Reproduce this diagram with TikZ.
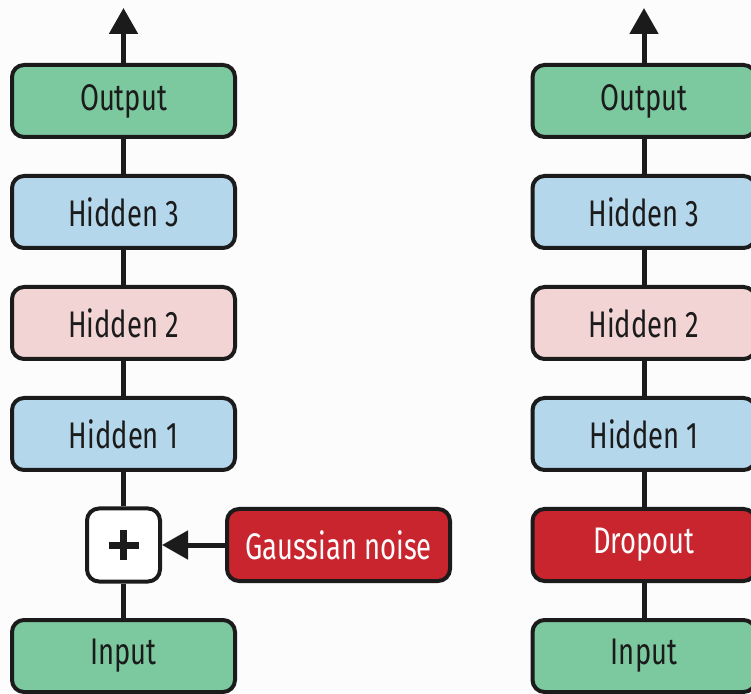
\documentclass[tikz,border=0pt]{standalone}
\usepackage{fontspec}
\setmainfont[FakeStretch=0.74]{Fira Sans}
\usepackage{xcolor}
\usepackage{tikz}
\usetikzlibrary{arrows.meta,positioning}
\definecolor{NNGreen}{HTML}{7CC9A0}
\definecolor{NNBlue}{HTML}{B5D7EC}
\definecolor{NNPink}{HTML}{F3D4D4}
\definecolor{NNRed}{HTML}{C9252F}
\definecolor{NNInk}{HTML}{1B1B1B}
\definecolor{NNPaper}{HTML}{FCFCFC}
\begin{document}
\begin{tikzpicture}[
  x=1pt,y=1pt,
  node distance=35pt,
  layer/.style={draw=NNInk,line width=4pt,rounded corners=12pt,minimum width=223pt,
               minimum height=72pt,inner sep=0pt,text=NNInk,font=\fontsize{37}{40}\selectfont},
  noisebox/.style={layer,fill=NNRed,text=NNPaper},
  addbox/.style={draw=NNInk,line width=4pt,rounded corners=12pt,fill=white,
                 minimum width=73pt,minimum height=73pt,inner sep=0pt,
                 path picture={\draw[NNInk,line width=7pt]
                   ([xshift=-15pt]path picture bounding box.center) -- ++(30pt,0)
                   ([yshift=-15pt]path picture bounding box.center) -- ++(0,30pt);}},
  link/.style={draw=NNInk,line width=5pt},
  up/.style={-{Triangle[length=26pt,width=28pt]},draw=NNInk,line width=5pt}
]
\fill[NNPaper] (0,0) rectangle (751,693);
\useasboundingbox (0,0) rectangle (751,693);
% left: gaussian noise
\node[layer,fill=NNGreen] (lout) at (123.5,592) {Output};
\node[layer,fill=NNBlue,below=of lout] (lh3) {Hidden 3};
\node[layer,fill=NNPink,below=of lh3] (lh2) {Hidden 2};
\node[layer,fill=NNBlue,below=of lh2] (lh1) {Hidden 1};
\node[addbox,below=34.5pt of lh1] (ladd) {};
\node[layer,fill=NNGreen,below=34.5pt of ladd] (lin) {Input};
\node[noisebox,right=63pt of ladd] (noise) {Gaussian noise};
% right: dropout
\node[layer,fill=NNGreen] (rout) at (644,592) {Output};
\node[layer,fill=NNBlue,below=of rout] (rh3) {Hidden 3};
\node[layer,fill=NNPink,below=of rh3] (rh2) {Hidden 2};
\node[layer,fill=NNBlue,below=of rh2] (rh1) {Hidden 1};
\node[noisebox,below=of rh1] (drop) {Dropout};
\node[layer,fill=NNGreen,below=of drop] (rin) {Input};
\foreach \a/\b in {lin/ladd,ladd/lh1,lh1/lh2,lh2/lh3,lh3/lout,rin/drop,drop/rh1,rh1/rh2,rh2/rh3,rh3/rout}{\draw[link] (\a) -- (\b);}
\coordinate[above=55pt of lout.north] (ltop);
\coordinate[above=55pt of rout.north] (rtop);
\draw[up] (lout) -- (ltop);
\draw[up] (rout) -- (rtop);
\draw[up] (noise) -- (ladd);
\end{tikzpicture}
\end{document}
